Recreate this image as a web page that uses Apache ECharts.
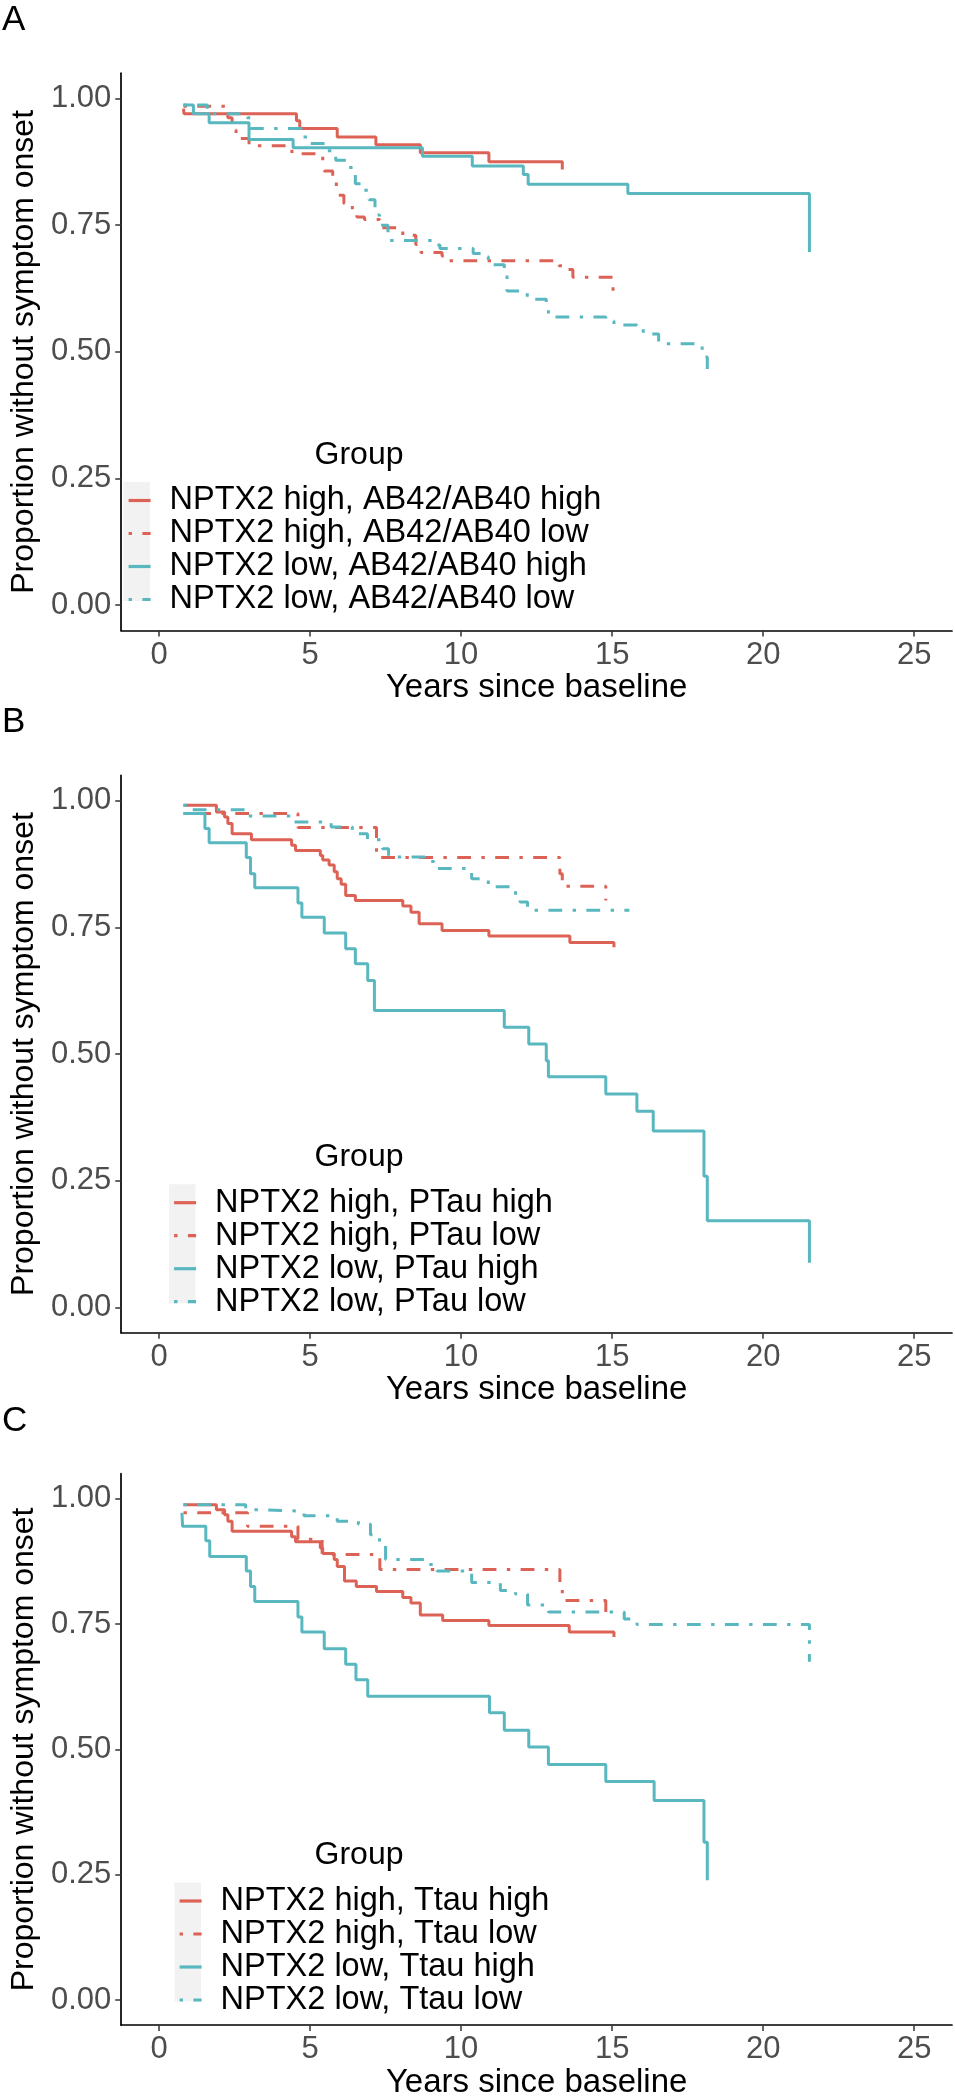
<!DOCTYPE html>
<html><head><meta charset="utf-8">
<script src="https://cdn.jsdelivr.net/npm/echarts@6/dist/echarts.min.js"></script>
<style>html,body{margin:0;padding:0;background:#fff}#c{width:955px;height:2100px}</style>
</head><body><div id="c"></div>
<script>
// ---------- DATA ----------
const panelLabels = ['A', 'B', 'C'];
const xTicks = [0, 5, 10, 15, 20, 25];
const yTicks = [0, 0.25, 0.5, 0.75, 1];
const xTitle = 'Years since baseline';
const yTitle = 'Proportion without symptom onset';
const legendTitle = 'Group';

const namesA = ['NPTX2 high, AB42/AB40 high', 'NPTX2 high, AB42/AB40 low', 'NPTX2 low, AB42/AB40 high', 'NPTX2 low, AB42/AB40 low'];
const namesB = ['NPTX2 high, PTau high', 'NPTX2 high, PTau low', 'NPTX2 low, PTau high', 'NPTX2 low, PTau low'];
const namesC = ['NPTX2 high, Ttau high', 'NPTX2 high, Ttau low', 'NPTX2 low, Ttau high', 'NPTX2 low, Ttau low'];

// [years, survival] step points, panel A
const A_highHigh = [[0.81,0.980],[0.83,0.970],[4.55,0.956],[4.66,0.941],[5.90,0.924],[7.18,0.909],[8.65,0.893],[10.92,0.875],[13.35,0.860]];
const A_highLow = [[0.81,0.985],[2.28,0.962],[2.42,0.938],[2.55,0.921],[2.98,0.907],[4.40,0.891],[5.42,0.868],[5.47,0.857],[5.75,0.842],[5.87,0.826],[5.92,0.809],[6.12,0.793],[6.40,0.776],[6.55,0.766],[6.80,0.761],[7.31,0.745],[8.07,0.730],[8.50,0.712],[8.67,0.696],[9.37,0.689],[9.60,0.680],[13.24,0.670],[13.45,0.6625],[13.70,0.647],[15.03,0.614]];
const A_lowHigh = [[0.81,0.987],[1.14,0.970],[1.66,0.952],[2.98,0.919],[4.44,0.903],[8.72,0.886],[10.37,0.867],[12.06,0.850],[12.22,0.831],[15.52,0.8125],[21.53,0.697]];
const A_lowLow = [[0.81,0.987],[1.60,0.970],[2.92,0.962],[3.03,0.941],[4.71,0.924],[4.90,0.911],[5.50,0.897],[5.85,0.878],[6.20,0.864],[6.50,0.832],[6.75,0.819],[6.95,0.800],[7.15,0.770],[7.30,0.750],[7.58,0.720],[9.10,0.711],[9.30,0.704],[10.40,0.694],[10.73,0.6875],[10.90,0.672],[11.43,0.655],[11.52,0.620],[12.19,0.604],[12.82,0.589],[12.89,0.569],[14.79,0.561],[15.06,0.553],[15.82,0.546],[16.03,0.535],[16.54,0.516],[17.98,0.490],[18.15,0.465]];

// panel B
const B_highHigh = [[0.81,0.991],[1.90,0.978],[2.17,0.968],[2.28,0.955],[2.42,0.935],[3.06,0.923],[4.39,0.912],[4.52,0.902],[5.34,0.892],[5.42,0.883],[5.63,0.873],[5.80,0.860],[5.90,0.846],[6.03,0.835],[6.18,0.813],[6.50,0.803],[8.07,0.792],[8.34,0.780],[8.61,0.757],[9.37,0.744],[10.92,0.733],[13.60,0.720],[15.06,0.711]];
const B_highLow = [[0.81,0.975],[4.60,0.947],[7.20,0.888],[13.27,0.856],[13.35,0.831],[14.79,0.803]];
const B_lowHigh = [[0.81,0.975],[1.52,0.945],[1.66,0.917],[2.89,0.888],[3.03,0.856],[3.17,0.828],[4.60,0.798],[4.73,0.770],[5.47,0.739],[6.18,0.708],[6.50,0.678],[6.91,0.645],[7.13,0.586],[11.43,0.553],[12.24,0.520],[12.82,0.487],[12.89,0.455],[14.79,0.421],[15.82,0.387],[16.36,0.348],[18.04,0.259],[18.15,0.171],[21.53,0.088]];
const B_lowLow = [[0.81,0.991],[1.00,0.982],[2.90,0.970],[4.39,0.958],[5.70,0.948],[6.40,0.935],[6.90,0.923],[7.40,0.905],[7.60,0.889],[8.80,0.880],[9.10,0.866],[10.35,0.846],[10.90,0.830],[11.80,0.813],[11.95,0.800],[12.20,0.784],[15.57,0.784]];

// panel C
const C_highHigh = [[0.81,0.988],[1.90,0.978],[2.17,0.968],[2.28,0.955],[2.42,0.935],[4.39,0.924],[4.52,0.914],[5.34,0.902],[5.42,0.891],[5.80,0.879],[5.90,0.865],[6.14,0.836],[6.53,0.825],[7.20,0.815],[8.07,0.803],[8.34,0.792],[8.65,0.768],[9.39,0.757],[10.92,0.747],[13.58,0.734],[15.06,0.724]];
const C_highLow = [[0.81,0.972],[2.93,0.945],[4.60,0.919],[5.40,0.889],[7.31,0.859],[13.27,0.827],[13.35,0.797],[14.79,0.770]];
const C_lowHigh = [[0.76,0.972],[0.78,0.945],[1.55,0.916],[1.68,0.885],[2.89,0.856],[3.03,0.825],[3.17,0.795],[4.60,0.764],[4.73,0.734],[5.47,0.701],[6.18,0.670],[6.52,0.639],[6.91,0.606],[10.94,0.573],[11.43,0.538],[12.24,0.505],[12.89,0.470],[14.79,0.436],[16.39,0.398],[18.04,0.315],[18.15,0.239]];
const C_lowLow = [[0.81,0.988],[2.87,0.978],[3.50,0.975],[4.80,0.966],[5.90,0.955],[6.60,0.949],[7.00,0.928],[7.30,0.909],[7.50,0.879],[8.90,0.869],[9.20,0.856],[10.35,0.833],[11.30,0.817],[11.80,0.810],[12.20,0.788],[12.89,0.774],[15.40,0.760],[15.82,0.749],[21.53,0.675]];

// ---------- LAYOUT / STYLE ----------
const FONT = '"Liberation Sans", Arial, sans-serif';
const RED = '#DD6256', TEAL = '#58B7BF';
const DASHDOT = [3.4, 10.4, 13.8, 10.4];
const gridTops = [73.2, 775.4, 1473.7];
const gridH = 557.3;
const gridLeft = 106.5, gridW = 845.5;
const legendIconLeft = [127, 172.5, 178];

const panels = [
  {names: namesA, data: [A_highHigh, A_highLow, A_lowHigh, A_lowLow]},
  {names: namesB, data: [B_highHigh, B_highLow, B_lowHigh, B_lowLow]},
  {names: namesC, data: [C_highHigh, C_highLow, C_lowHigh, C_lowLow]}
];
const styles = [
  {color: RED, type: 'solid'}, {color: RED, type: DASHDOT},
  {color: TEAL, type: 'solid'}, {color: TEAL, type: DASHDOT}
];

const grid = [], xAxis = [], yAxis = [], series = [], legend = [], graphic = [];
panels.forEach((p, i) => {
  const top = gridTops[i];
  const off = top - gridTops[0];
  grid.push({left: gridLeft, top: top, width: gridW, height: gridH, containLabel: false});
  xAxis.push({
    gridIndex: i, type: 'value', min: -1.25, max: 26.25,
    axisLine: {show: true, onZero: false, lineStyle: {color: '#000', width: 1.7}},
    axisTick: {show: true, customValues: xTicks, length: 6, lineStyle: {color: '#333', width: 1.5}},
    axisLabel: {customValues: xTicks, fontSize: 31, color: '#4D4D4D', fontFamily: FONT, margin: 9},
    splitLine: {show: false},
    name: xTitle, nameLocation: 'middle', nameGap: 38,
    nameTextStyle: {fontSize: 33, color: '#000', fontFamily: FONT}
  });
  yAxis.push({
    gridIndex: i, type: 'value', min: -0.05, max: 1.05,
    axisLine: {show: true, onZero: false, lineStyle: {color: '#000', width: 1.7}},
    axisTick: {show: true, customValues: yTicks, length: 6, lineStyle: {color: '#333', width: 1.5}},
    axisLabel: {customValues: yTicks, fontSize: 31, color: '#4D4D4D', fontFamily: FONT, margin: 10,
      formatter: v => v.toFixed(2)},
    splitLine: {show: false},
    name: yTitle, nameLocation: 'middle', nameGap: 76, nameRotate: 90,
    nameTextStyle: {fontSize: 32, color: '#000', fontFamily: FONT}
  });
  p.names.forEach((n, k) => {
    series.push({
      name: n, type: 'line', step: 'end', xAxisIndex: i, yAxisIndex: i,
      data: p.data[k], showSymbol: false, symbol: 'none', animation: false,
      color: styles[k].color,
      lineStyle: {color: styles[k].color, width: 3, type: styles[k].type, cap: 'butt'}
    });
  });
  legend.push({
    data: p.names, orient: 'vertical', left: legendIconLeft[i], top: off + 484,
    padding: 0, itemGap: 0, itemWidth: 22, itemHeight: 14,
    selectedMode: false,
    itemStyle: {opacity: 0, color: 'rgba(0,0,0,0)', borderWidth: 0},
    lineStyle: {width: 3.2},
    textStyle: {fontSize: 32.5, lineHeight: 30, color: '#000', fontFamily: FONT, padding: [0, 0, 0, 14]}
  });
  // legend key background
  graphic.push({type: 'rect', z: -1, shape: {x: legendIconLeft[i] - 3.5, y: off + 482, width: 26.5, height: 119},
    style: {fill: '#F2F2F2'}});
  graphic.push({type: 'text', x: 359, y: off + 455,
    style: {text: legendTitle, fontSize: 32, fontFamily: FONT, fill: '#000', align: 'center', verticalAlign: 'middle'}});
  graphic.push({type: 'text', x: 2, y: off + 20.5,
    style: {text: panelLabels[i], fontSize: 35, fontFamily: FONT, fill: '#000', align: 'left', verticalAlign: 'middle'}});
});

const chart = echarts.init(document.getElementById('c'), null, {renderer: 'canvas'});
chart.setOption({
  backgroundColor: '#fff', animation: false,
  grid, xAxis, yAxis, series, legend, graphic
});
</script></body></html>
